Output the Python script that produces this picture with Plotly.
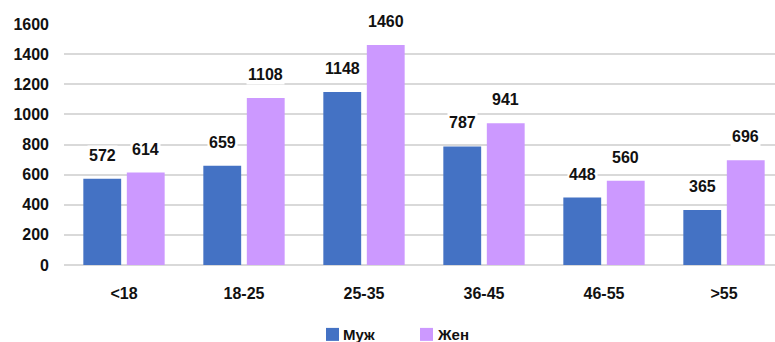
import plotly.graph_objects as go

# Age groups and respondent counts by sex
age_groups = ["<18", "18-25", "25-35", "36-45", "46-55", ">55"]
male = [572, 659, 1148, 787, 448, 365]
female = [614, 1108, 1460, 941, 560, 696]
series_names = ["Муж", "Жен"]
y_ticks = [0, 200, 400, 600, 800, 1000, 1200, 1400, 1600]

colors = ["#4472C4", "#CC99FF"]
font_family = "Liberation Sans, Arial, sans-serif"
text_font = dict(family=font_family, size=16, color="#111", weight="bold")
bargap = 0.275
bargroupgap = 0.13

fig = go.Figure()
for name, vals, col in zip(series_names, [male, female], colors):
    fig.add_trace(go.Bar(x=age_groups, y=vals, name=name, marker_color=col,
                         marker_line_width=0, showlegend=False))

# Value labels on white boxes above each bar
offset = (1 - bargap) / 4
for si, vals in enumerate([male, female]):
    sign = -1 if si == 0 else 1
    for i, v in enumerate(vals):
        fig.add_annotation(x=i + sign * offset, y=v, xref="x", yref="y",
                           text=str(v), showarrow=False, yanchor="bottom",
                           yshift=13, bgcolor="white", borderpad=1,
                           font=text_font)

# Compact legend below the axis: colour square followed by series name
legend_x = [0.3685, 0.5007]
legend_top = -0.261
sq_w, sq_h = 13 / 711, 13 / 241
for name, col, lx in zip(series_names, colors, legend_x):
    fig.add_shape(type="rect", xref="paper", yref="paper",
                  x0=lx, x1=lx + sq_w, y0=legend_top, y1=legend_top - sq_h,
                  fillcolor=col, line_width=0)
    fig.add_annotation(x=lx + 15 / 711, y=legend_top - sq_h / 2,
                       xref="paper", yref="paper", text=name,
                       showarrow=False, xanchor="left", yanchor="middle",
                       font=dict(text_font, size=15))

fig.update_layout(
    width=775, height=342,
    margin=dict(l=64, r=0, t=24, b=77),
    paper_bgcolor="white", plot_bgcolor="white",
    barmode="group", bargap=bargap, bargroupgap=bargroupgap,
    font=text_font,
    showlegend=False,
    xaxis=dict(range=[-0.5, 5.425], showgrid=False, showline=False,
               ticks="", ticklabelstandoff=17, zeroline=False,
               tickfont=text_font),
    yaxis=dict(range=[0, 1600], tickvals=y_ticks, showgrid=True,
               gridcolor="#D9D9D9", gridwidth=1.5, zeroline=True,
               zerolinecolor="#D9D9D9", zerolinewidth=2, showline=False,
               ticks="", ticklabelstandoff=14, tickfont=text_font),
)

fig.write_html("out.html")
